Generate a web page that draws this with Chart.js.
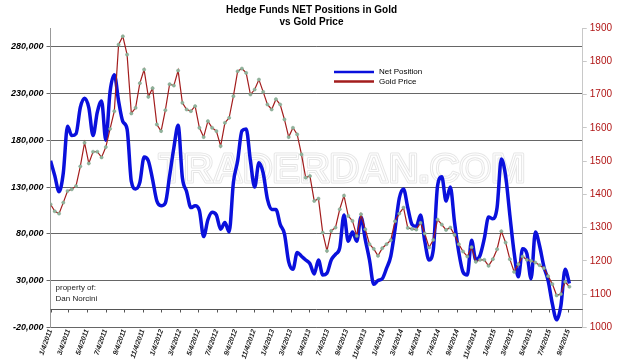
<!DOCTYPE html>
<html>
<head>
<meta charset="utf-8">
<script src="https://cdn.jsdelivr.net/npm/chart.js@4.4.1/dist/chart.umd.min.js"></script>
<style>
  html, body { margin: 0; padding: 0; background: #fff; }
  #wrap { width: 620px; height: 361px; }
</style>
</head>
<body>
<div id="wrap"><canvas id="gold-chart" width="620" height="361"></canvas></div>
<script>
const ctx = document.getElementById("gold-chart").getContext("2d");

// weekly COT readings, sampled every 2 weeks starting 1/4/2011
const startDate = "1/4/2011";
const stepDays = 14;

const net2011 = [158000, 142000, 125000, 145000, 195000, 185000, 187000, 215000, 225000, 215000, 185000, 210000, 222000,
                 180000, 232000, 250000, 222000, 200000, 192000, 136000, 128000, 135000, 162000, 158000, 138000, 115000];
const net2012 = [110000, 113000, 142000, 172000, 196000, 140000, 125000, 108000, 110000, 105000, 77000, 95000, 103000,
                 100000, 85000, 92000, 82000, 135000, 158000, 190000, 192000, 158000, 130000, 156000, 145000, 117000];
const net2013 = [106000, 106000, 90000, 80000, 50000, 42000, 60000, 56000, 52000, 48000, 37000, 52000, 36000,
                 38000, 52000, 58000, 65000, 100000, 72000, 82000, 72000, 98000, 74000, 52000, 26000, 30000];
const net2014 = [32000, 43000, 56000, 85000, 118000, 128000, 108000, 90000, 88000, 100000, 72000, 52000, 63000,
                 131000, 141000, 115000, 130000, 92000, 60000, 39000, 36000, 73000, 52000, 57000, 75000, 98000];
const net2015 = [96000, 108000, 160000, 142000, 100000, 60000, 34000, 64000, 59000, 32000, 82000, 67000, 45000,
                 30000, 5000, -12000, 3000, 42000, 27000];

const gold2011 = [1370, 1349, 1342, 1375, 1410, 1415, 1425, 1484, 1555, 1493, 1528, 1528, 1511,
                  1542, 1597, 1650, 1850, 1875, 1820, 1643, 1660, 1734, 1775, 1693, 1719, 1610];
const gold2012 = [1590, 1653, 1731, 1727, 1772, 1675, 1655, 1650, 1665, 1600, 1572, 1620, 1600,
                  1590, 1545, 1615, 1630, 1695, 1770, 1778, 1765, 1700, 1715, 1745, 1708, 1670];
const gold2013 = [1655, 1686, 1670, 1625, 1572, 1600, 1580, 1520, 1450, 1455, 1380, 1387, 1285,
                  1230, 1290, 1300, 1355, 1396, 1335, 1320, 1275, 1340, 1295, 1250, 1236, 1215];
const gold2014 = [1238, 1250, 1262, 1319, 1342, 1360, 1299, 1296, 1294, 1314, 1282, 1240, 1263,
                  1324, 1309, 1293, 1300, 1278, 1250, 1228, 1213, 1241, 1197, 1203, 1203, 1185];
const gold2015 = [1205, 1235, 1289, 1255, 1205, 1167, 1190, 1213, 1203, 1200, 1195, 1187, 1178,
                  1154, 1130, 1096, 1100, 1137, 1122];

const tickLabels = ["1/4/2011", "3/4/2011", "5/4/2011", "7/4/2011", "9/4/2011", "11/4/2011",
                    "1/4/2012", "3/4/2012", "5/4/2012", "7/4/2012", "9/4/2012", "11/4/2012",
                    "1/4/2013", "3/4/2013", "5/4/2013", "7/4/2013", "9/4/2013", "11/4/2013",
                    "1/4/2014", "3/4/2014", "5/4/2014", "7/4/2014", "9/4/2014", "11/4/2014",
                    "1/4/2015", "3/4/2015", "5/4/2015", "7/4/2015", "9/4/2015"];
const netTicks = [-20000, 30000, 80000, 130000, 180000, 230000, 280000];
const goldTicks = [1000, 1100, 1200, 1300, 1400, 1500, 1600, 1700, 1800, 1900];


function toUTC(label) {
    const [m, d, y] = label.split("/").map(Number);
    return Date.UTC(y, m - 1, d);
}

function dayOf(label) {
    return Math.round((toUTC(label) - toUTC(startDate)) / 86400000);
}

const netPosition = [].concat(net2011, net2012, net2013, net2014, net2015);
const goldPrice = [].concat(gold2011, gold2012, gold2013, gold2014, gold2015);
const toPoints = (arr) => arr.map((v, i) => ({ x: i * stepDays, y: v }));


// faint site watermark behind the lines
const watermark = {
    id: "watermark",
    beforeDatasetsDraw(chart) {
        const c = chart.ctx;
        c.save();
        c.font = "bold 41px 'Liberation Sans', Arial, sans-serif";
        c.textAlign = "center";
        c.textBaseline = "alphabetic";
        c.lineJoin = "round";
        c.strokeStyle = "#e6e6e6";
        c.lineWidth = 3;
        c.strokeText("TRADERDAN.COM", 342, 182);
        c.strokeStyle = "#ffffff";
        c.lineWidth = 1;
        c.strokeText("TRADERDAN.COM", 342, 182);
        c.restore();
    }
};

// category axis crossing at zero, with its tick marks
const zeroAxis = {
    id: "zeroAxis",
    beforeDatasetsDraw(chart) {
        const c = chart.ctx;
        const xs = chart.scales.x;
        const y0 = Math.round(chart.scales.y.getPixelForValue(0)) + 0.5;
        c.save();
        c.strokeStyle = "#555";
        c.lineWidth = 1;
        c.beginPath();
        c.moveTo(chart.chartArea.left, y0);
        c.lineTo(chart.chartArea.right, y0);
        xs.ticks.forEach((t) => {
            const px = Math.round(xs.getPixelForValue(t.value)) + 0.5;
            c.moveTo(px, y0);
            c.lineTo(px, y0 + 3);
        });
        c.stroke();

        c.fillStyle = "#222";
        c.font = "8px 'Liberation Sans', Arial, sans-serif";
        c.textBaseline = "middle";
        c.fillText("property of:", chart.chartArea.left + 5, 288);
        c.fillText("Dan Norcini", chart.chartArea.left + 5, 299);
        c.restore();
    }
};

// legend sitting inside the plot
const innerLegend = {
    id: "innerLegend",
    afterDraw(chart) {
        const c = chart.ctx;
        c.save();
        c.font = "8px 'Liberation Sans', Arial, sans-serif";
        c.textBaseline = "middle";
        chart.data.datasets.forEach((ds, i) => {
            const y = 72 + i * 9.5;
            c.strokeStyle = ds.borderColor;
            c.lineWidth = 2.5;
            c.beginPath();
            c.moveTo(334, y);
            c.lineTo(374, y);
            c.stroke();
            c.fillStyle = "#000";
            c.fillText(ds.label, 379, y);
        });
        c.restore();
    }
};


const goldChart = new Chart(ctx, {
    type: "line",
    data: {
        datasets: [{
            label: "Net Position",
            data: toPoints(netPosition),
            yAxisID: "y",
            borderColor: "#0a10dc",
            borderWidth: 3.5,
            pointRadius: 0,
            cubicInterpolationMode: "monotone",
            order: 1
        }, {
            label: "Gold Price",
            data: toPoints(goldPrice),
            yAxisID: "y1",
            borderColor: "#a31d1d",
            borderWidth: 1.2,
            pointRadius: 1.6,
            pointBackgroundColor: "#8fb39b",
            pointBorderColor: "#7fa38b",
            pointBorderWidth: 0.5,
            tension: 0,
            order: 0
        }]
    },
    options: {
        responsive: false,
        animation: false,
        layout: { padding: { left: 8, right: 5, top: 0, bottom: 0 } },
        plugins: {
            legend: { display: false },
            tooltip: { enabled: false },
            title: {
                display: true,
                text: ["Hedge Funds NET Positions in Gold", "vs Gold Price"],
                color: "#000",
                font: { family: "'Liberation Sans', Arial, sans-serif", size: 10, weight: "bold", lineHeight: 1.2 },
                padding: { top: 4, bottom: 0 }
            }
        },
        scales: {
            x: {
                type: "linear",
                min: 0,
                max: 1752,
                afterBuildTicks: (s) => { s.ticks = tickLabels.map((l) => ({ value: dayOf(l) })); },
                ticks: {
                    autoSkip: false,
                    minRotation: 70,
                    maxRotation: 70,
                    padding: 1,
                    color: "#222",
                    font: { family: "'Liberation Sans', Arial, sans-serif", size: 7, style: "italic", weight: "bold" },
                    callback: (v, i) => tickLabels[i]
                },
                grid: { display: false, drawTicks: false },
                border: { display: false }
            },
            y: {
                position: "left",
                min: -20000,
                max: 300000,
                afterBuildTicks: (s) => { s.ticks = netTicks.map((v) => ({ value: v })); },
                ticks: {
                    color: "#000",
                    padding: 3,
                    font: { family: "'Liberation Sans', Arial, sans-serif", size: 9, style: "italic", weight: "bold" },
                    callback: (v) => v.toLocaleString("en-US")
                },
                grid: { color: "#666", lineWidth: 1, tickLength: 4, tickColor: "#666" },
                border: { display: true, color: "#999", width: 1 }
            },
            y1: {
                position: "right",
                min: 1000,
                max: 1900,
                afterBuildTicks: (s) => { s.ticks = goldTicks.map((v) => ({ value: v })); },
                ticks: {
                    color: "#b01515",
                    padding: 3,
                    font: { family: "'Liberation Sans', Arial, sans-serif", size: 10 },
                    callback: (v) => String(v)
                },
                grid: { drawOnChartArea: false, tickLength: 4, color: "#c8c8c8" },
                border: { display: true, color: "#c8c8c8", width: 1 }
            }
        }
    },
    plugins: [watermark, zeroAxis, innerLegend]
});
</script>
</body>
</html>
